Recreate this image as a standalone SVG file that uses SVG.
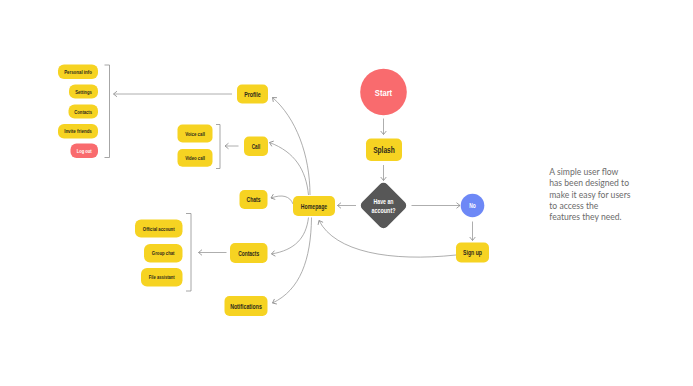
<svg xmlns="http://www.w3.org/2000/svg" width="693" height="386" viewBox="0 0 693 386">
<defs>
<marker id="ah" markerUnits="userSpaceOnUse" markerWidth="8" markerHeight="8" refX="6" refY="4" orient="auto">
<path d="M2.5,1.2 L6,4 L2.5,6.8" fill="none" stroke="#8a8a8a" stroke-width="0.8"/>
</marker>
<style>
.bg{fill:#ffffff}
.y{fill:#F6D322}
.r{fill:#F96B6E}
.b{fill:#6D88F6}
.d{fill:#575757}
.t{font-family:"Liberation Sans",Arial,sans-serif;font-weight:bold;fill:#2e2a1c;text-anchor:middle;dominant-baseline:central}
.w{fill:#ffffff}
.s5{font-size:6px}
.s6{font-size:6.3px}
.s7{font-size:7.5px}
.s9{font-size:9.8px}
.c{fill:none;stroke:#999999;stroke-width:0.8;marker-end:url(#ah)}
.k{fill:none;stroke:#8f8f8f;stroke-width:0.8}
.note{font-family:Lato,"Liberation Sans",sans-serif;font-size:8.6px;fill:#6b6b6b}
</style>
</defs>
<rect class="bg" x="0" y="0" width="693" height="386"/>

<g id="connectors">
<path class="c" d="M383.5,118.5 V134.5"/>
<path class="c" d="M383.5,165 V180.5"/>
<path class="c" d="M356,205.5 H337.5"/>
<path class="c" d="M411.5,205.5 H460"/>
<path class="c" d="M472.5,221.5 V240.5"/>
<path class="c" d="M456,255 C390,262 335,252 319,220.5"/>
<path class="c" d="M310,195 C310,155 296,118 272.5,97.5"/>
<path class="c" d="M308.5,195 C306,170 295,152 269.5,142.5"/>
<path class="c" d="M293,204 C290,196 282,194 271,198"/>
<path class="c" d="M308.5,217.5 C306,238 295,250 271.5,254"/>
<path class="c" d="M311.5,217.5 C311,260 300,290 272.5,303"/>
<path class="c" d="M232,94 H113.5"/>
<path class="c" d="M238.5,146 H225"/>
<path class="c" d="M226.5,252.5 H198.5"/>
<path class="k" d="M104.5,65 H109.5 V157.5 H104.5"/>
<path class="k" d="M216,124.5 H220 V168.5 H216"/>
<path class="k" d="M186,213.5 H191 V291 H186"/>
</g>

<g id="start"><circle class="r" cx="383.5" cy="92" r="23.3"/><text class="t w s9" x="383.5" y="92" textLength="17.3" lengthAdjust="spacingAndGlyphs">Start</text></g>
<g id="splash"><rect class="y" x="366" y="138.5" width="36" height="22.5" rx="5"/><text class="t s9" x="384" y="149.8" textLength="21.7" lengthAdjust="spacingAndGlyphs">Splash</text></g>
<g id="decision"><rect class="d" x="366" y="188" width="35" height="35" rx="5" transform="rotate(45 383.5 205.5)"/><text class="t w s6" x="383.5" y="201.5" textLength="20" lengthAdjust="spacingAndGlyphs">Have an</text><text class="t w s6" x="383.5" y="210" textLength="24" lengthAdjust="spacingAndGlyphs">account?</text></g>
<g id="no"><circle class="b" cx="472.5" cy="205.5" r="11.8"/><text class="t w s6" x="472.5" y="205.8" textLength="6.5" lengthAdjust="spacingAndGlyphs">No</text></g>
<g id="signup"><rect class="y" x="456" y="242.5" width="33" height="20" rx="5"/><text class="t s7" x="472.5" y="252.7" textLength="19" lengthAdjust="spacingAndGlyphs">Sign up</text></g>
<g id="homepage"><rect class="y" x="293" y="196" width="42" height="20" rx="5"/><text class="t s7" x="314" y="206.2" textLength="26.3" lengthAdjust="spacingAndGlyphs">Homepage</text></g>
<g id="profile"><rect class="y" x="237" y="84.5" width="31" height="19" rx="5"/><text class="t s7" x="252.5" y="94.2" textLength="16.7" lengthAdjust="spacingAndGlyphs">Profile</text></g>
<g id="call"><rect class="y" x="244" y="136.5" width="24" height="19.5" rx="5"/><text class="t s7" x="256" y="146.4" textLength="8.5" lengthAdjust="spacingAndGlyphs">Call</text></g>
<g id="chats"><rect class="y" x="239.5" y="190" width="28" height="19" rx="5"/><text class="t s7" x="253.5" y="199.7" textLength="14" lengthAdjust="spacingAndGlyphs">Chats</text></g>
<g id="contacts"><rect class="y" x="230" y="243" width="37.5" height="20" rx="5"/><text class="t s7" x="248.7" y="253.2" textLength="21" lengthAdjust="spacingAndGlyphs">Contacts</text></g>
<g id="notifications"><rect class="y" x="224.5" y="296" width="43" height="20" rx="5"/><text class="t s7" x="246" y="306.2" textLength="31.7" lengthAdjust="spacingAndGlyphs">Notifications</text></g>
<g id="voicecall"><rect class="y" x="177.5" y="124.5" width="35" height="18" rx="5"/><text class="t s5" x="195" y="133.6" textLength="19.7" lengthAdjust="spacingAndGlyphs">Voice call</text></g>
<g id="videocall"><rect class="y" x="177.5" y="149" width="35" height="17.7" rx="5"/><text class="t s5" x="195" y="158" textLength="19.7" lengthAdjust="spacingAndGlyphs">Video call</text></g>
<g id="personalinfo"><rect class="y" x="58" y="64.5" width="40" height="14.5" rx="6"/><text class="t s5" x="78" y="71.9" textLength="27.7" lengthAdjust="spacingAndGlyphs">Personal info</text></g>
<g id="settings"><rect class="y" x="69" y="84.5" width="29" height="14" rx="6"/><text class="t s5" x="83.5" y="91.6" textLength="16.7" lengthAdjust="spacingAndGlyphs">Settings</text></g>
<g id="contacts2"><rect class="y" x="68.5" y="104.5" width="29.5" height="14" rx="6"/><text class="t s5" x="83.2" y="111.6" textLength="17.7" lengthAdjust="spacingAndGlyphs">Contacts</text></g>
<g id="invitefriends"><rect class="y" x="58" y="124" width="40" height="14.5" rx="6"/><text class="t s5" x="78" y="131.4" textLength="27.7" lengthAdjust="spacingAndGlyphs">Invite friends</text></g>
<g id="logout"><rect class="r" x="70.5" y="143.5" width="27.5" height="14.5" rx="6"/><text class="t w s5" x="84.2" y="150.9" textLength="15" lengthAdjust="spacingAndGlyphs">Log out</text></g>
<g id="officialaccount"><rect class="y" x="135" y="219.5" width="47.5" height="18" rx="6"/><text class="t s5" x="158.7" y="228.6" textLength="31.7" lengthAdjust="spacingAndGlyphs">Official account</text></g>
<g id="groupchat"><rect class="y" x="144" y="244" width="38.5" height="18.5" rx="6"/><text class="t s5" x="163.2" y="253.3" textLength="22.7" lengthAdjust="spacingAndGlyphs">Group chat</text></g>
<g id="fileassistant"><rect class="y" x="141" y="268" width="41.5" height="18.5" rx="6"/><text class="t s5" x="161.7" y="277.3" textLength="26" lengthAdjust="spacingAndGlyphs">File assistant</text></g>

<g id="note">
<text class="note" x="549.3" y="175">A simple user flow</text>
<text class="note" x="549.3" y="186.3">has been designed to</text>
<text class="note" x="549.3" y="197.6">make it easy for users</text>
<text class="note" x="549.3" y="208.9">to access the</text>
<text class="note" x="549.3" y="220.2">features they need.</text>
</g>
</svg>
